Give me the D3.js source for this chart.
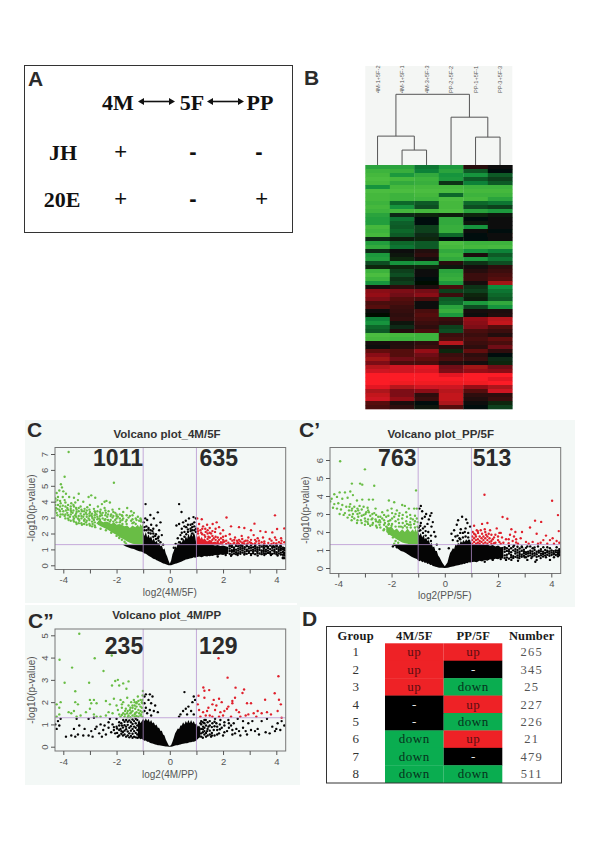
<!DOCTYPE html>
<html><head><meta charset="utf-8">
<style>html,body{margin:0;padding:0;background:#fff}svg{display:block}</style>
<script src="https://cdn.jsdelivr.net/npm/d3@7"></script></head><body>
<script>
// ---------- data ----------
const heatSamples=["4M-1+5F-2","4M-1+5F-1","4M-3+5F-3","PP-2+5F-2","PP-1+5F-1","PP-3+5F-3"];
const heatRows=[
[-.7,-.7,-.4,-.6,.12,.02],[-.85,-.8,-.45,-.7,-.3,-.02],[-.9,-.6,-.75,-.55,-.55,-.3],[-.95,-.9,-.85,-.6,-.3,-.2],
[-.9,-.75,-.8,-.15,-.45,-.3],[-.55,-.9,-.9,-.9,-.85,-.85],[-.95,-.95,-.95,-.95,-.9,-.9],[-.9,-.85,-.9,-.35,-.85,-.85],
[-.9,-.85,-.85,-.95,-.9,-.7],[-.85,-.35,-.3,-.9,-.35,-.4],[-.9,-.55,-.25,-.9,-.25,-.2],[-.85,-.9,-.9,-.95,-.7,-.6],
[-.7,-.12,-.1,-.08,-.1,-.05],[-.65,-.4,-.02,-.75,-.02,.02],[-.65,-.32,-.02,-.75,-.05,.02],[-.9,-.3,-.2,-.8,-.55,.02],
[-.85,-.35,-.2,-.8,.02,-.02],[-.9,-.3,-.12,-.35,-.02,.04],[-.12,-.08,-.1,-.02,-.02,.02],[-.65,-.35,-.3,-.95,-.85,-.85],
[-.75,-.4,-.3,-.9,-.9,-.92],[-.12,.02,.1,-.75,-.55,-.45],[-.6,-.05,.15,-.85,.08,-.3],[-.65,-.1,.05,-.75,-.6,-.4],
[-.25,-.55,-.6,.12,-.15,-.25],[-.1,-.1,-.1,-.05,.05,.15],[-.85,-.2,.02,-.7,.12,.2],[-.95,-.25,.02,-.75,.2,.25],
[-.85,-.15,-.02,-.8,.2,.3],[-.55,-.2,0,-.6,.05,.6],[.05,.15,.08,.25,-.15,-.5],[.5,.45,.42,-.2,-.2,-.4],
[.55,.4,.5,.2,-.1,-.35],[.45,.3,.25,-.3,-.08,-.3],[.25,.25,.02,-.35,-.6,-.75],[.3,.2,.02,-.7,-.25,-.55],
[.02,.18,.25,-.8,.05,.08],[0,.15,.3,-.6,.02,.1],[-.45,.18,.25,.2,.55,.7],[-.55,-.05,.2,.15,.5,.75],
[-.35,-.12,.15,-.2,.45,.3],[-.3,.1,.25,-.25,.25,.2],[-.95,-.9,-.85,.2,.2,.1],[-.9,-.85,-.85,.25,.25,.35],
[.05,.1,.15,.7,.2,.25],[.02,.12,.2,.1,.15,.4],[.35,.3,.55,-.1,.35,.15],[.5,.3,.4,.2,.15,-.02],
[.6,.4,.35,.25,.2,-.12],[.45,.25,.25,.1,.05,-.1],[.7,.8,.9,.4,.6,.4],[.8,.8,.85,.45,.55,.5],
[1,1,1,.9,1,1],[1,1,1,1,1,.9],[1,.95,.95,.95,.95,1],[.9,.7,.8,.8,.55,.65],
[.65,.45,.5,.7,.3,.8],[.75,.45,.15,.75,.15,.15],[.8,.55,.2,.75,.1,.2],[.3,.08,-.02,.65,.02,-.1],[.25,.15,-.05,.3,-.02,-.2]
];
const dendroTree={h:71,ch:[{h:29,ch:[{n:0,h:0},{h:15,ch:[{n:1,h:0},{n:2,h:0}]}]},{h:48,ch:[{n:3,h:0},{h:28,ch:[{n:4,h:0},{n:5,h:0}]}]}]};

const tableHead=["Group","4M/5F","PP/5F","Number"];
const tableGroup=[1,2,3,4,5,6,7,8];
const table4M=["up","up","up","-","-","down","down","down"];
const tablePP=["up","-","down","up","down","up","-","down"];
const tableNum=[265,345,25,227,226,21,479,511];

// dense cores: [x, lower, upper]; scattered marks: [x, y]; extra columns of marks: [x, [y, y, ...]]
const cDenseBlack=[[-1.75,1.27,1.3],[-1.65,1.18,1.3],[-1.55,1.12,1.3],[-1.45,1.05,1.3],[-1.35,1.02,1.3],[-1.25,.95,1.3],[-1.15,.88,1.3],[-1.05,.85,1.3],[-1.0,.8,2.1],[-.95,.75,1.85],[-.9,.72,2.1],[-.85,.66,1.75],[-.8,.6,1.95],[-.75,.56,1.7],[-.7,.5,1.85],[-.65,.45,1.55],[-.6,.4,1.7],[-.55,.38,1.45],[-.5,.32,1.55],[-.45,.28,1.35],[-.4,.24,1.4],[-.35,.2,1.2],[-.3,.16,1.25],[-.25,.12,1.0],[-.2,.09,1.05],[-.15,.06,.75],[-.1,.03,.55],[-.05,.01,.3],[0,0,.1],[.05,.01,.3],[.1,.03,.7],[.15,.06,.9],[.2,.09,1.2],[.25,.12,1.1],[.3,.15,1.4],[.35,.18,1.3],[.4,.21,1.55],[.45,.24,1.4],[.5,.28,1.7],[.55,.32,1.55],[.6,.36,1.85],[.65,.38,1.65],[.7,.4,2.0],[.75,.43,1.75],[.8,.45,2.05],[.85,.46,1.8],[.9,.5,2.1],[.95,.48,1.85],[1,.5,1.3],[1.1,.55,1.3],[1.2,.5,1.3],[1.3,.58,1.3],[1.4,.55,1.3],[1.5,.62,1.28],[1.6,.58,1.3],[1.7,.65,1.25],[1.8,.62,1.28],[1.9,.68,1.22],[2,.64,1.25],[2.1,.7,1.2],[2.2,.72,1.15]];
const cDenseGreen=[[-1,1.3,2.7],[-1.05,1.3,2.45],[-1.1,1.3,2.6],[-1.15,1.3,2.4],[-1.2,1.3,2.55],[-1.3,1.32,2.4],[-1.4,1.35,2.5],[-1.5,1.42,2.35],[-1.6,1.5,2.5],[-1.7,1.6,2.45],[-1.8,1.68,2.55],[-1.9,1.78,2.6],[-2,1.9,2.55],[-2.1,2.0,2.7],[-2.2,2.1,2.6],[-2.3,2.2,2.7],[-2.4,2.3,2.75],[-2.5,2.38,2.7],[-2.6,2.45,2.8],[-2.7,2.55,2.8]];
const cDenseRed=[[1,1.3,2.0],[1.05,1.3,1.75],[1.1,1.3,1.9],[1.15,1.3,1.65],[1.2,1.3,1.8],[1.25,1.3,1.6],[1.3,1.3,1.7],[1.4,1.3,1.5],[1.5,1.3,1.6],[1.6,1.3,1.45],[1.7,1.3,1.5],[1.8,1.3,1.4],[2,1.3,1.38]];
const cGreen=[[-3.8,7.13],[-3.95,5.57],[-4.09,5.1],[-2.1,5.19],[-4.05,4.9],[-4.0,4.65],[-4.15,4.7],[-4.25,4.55],[-3.9,4.5],[-3.78,4.3],[-4.2,4.3],[-3.6,4.25],[-3.45,4.1],[-3.42,4.5],[-3.05,4.3],[-2.95,4.4],[-2.8,4.25],[-2.45,4.0],[-2.38,4.05],[-2.25,3.95],[-2.55,3.85],[-3.25,4.0],[-3.55,3.95],[-3.7,3.9],[-3.95,4.1],[-4.1,3.9],[-4.2,3.8],[-4.28,3.6],[-4.05,3.55],[-3.85,3.6],[-3.72,3.55],[-3.6,3.7],[-3.5,3.5],[-3.35,3.7],[-3.2,3.55],[-3.1,3.65],[-3.0,3.8],[-2.85,3.55],[-2.7,3.7],[-2.6,3.5],[-2.45,3.6],[-2.3,3.4],[-2.15,3.5],[-2.05,3.3],[-1.9,3.55],[-1.75,3.35],[-1.6,3.6],[-1.45,3.4],[-1.35,3.3],[-1.2,3.05],[-1.1,2.95],[-4.25,3.3],[-4.1,3.2],[-3.95,3.1],[-3.85,3.3],[-3.75,3.05],[-3.65,3.3],[-3.55,3.15],[-3.45,2.95],[-3.35,3.25],[-3.25,3.05],[-3.15,3.3],[-3.05,2.95],[-2.95,3.15],[-2.85,2.85],[-2.75,3.2],[-2.65,2.95],[-2.55,3.15],[-2.45,2.85],[-2.35,3.05],[-2.25,2.75],[-2.15,3.0],[-2.05,2.85],[-1.95,3.05],[-1.85,2.8],[-1.75,2.95],[-1.65,2.75],[-1.55,3.0],[-1.45,2.8],[-1.35,2.7],[-1.25,2.85],[-3.8,2.85],[-3.6,2.75],[-3.5,2.6],[-3.4,2.8],[-3.3,2.55],[-3.15,2.7],[-3.0,2.5],[-2.9,2.6],[-2.8,2.4],[-2.7,2.65],[-2.6,2.3],[-2.5,2.5],[-2.4,2.2],[-2.3,2.45],[-2.2,2.05],[-2.1,2.3],[-2.0,1.85],[-1.9,1.72],[-1.8,1.6],[-1.7,1.48],[-1.65,1.38],[-4.0,3.4],[-3.9,3.45],[-3.7,3.35],[-3.5,3.35],[-3.3,3.4],[-3.0,3.35],[-2.8,3.3],[-2.6,3.25],[-2.4,3.3],[-2.2,3.2],[-2.0,3.1],[-1.8,3.15],[-1.5,3.1],[-1.15,2.8],[-3.6,2.95],[-3.2,2.9],[-2.9,2.95],[-2.6,2.7],[-4.15,3.5],[-4.3,4.0]];
const cGreenCols=[[-4.3,[3.45,3.8,4.2]],[-4.22,[3.15,3.55,4.1]],[-4.12,[3.05,3.4,3.7,4.05]],[-4.02,[3.2,3.75,4.3]],[-3.92,[2.95,3.2,3.7,3.95]],[-3.82,[2.95,3.15,3.5,3.8]],[-3.72,[2.8,3.2,3.45,3.7]],[-3.62,[2.85,3.05,3.45,3.8]],[-3.52,[2.7,3.05,3.25,3.6]],[-3.42,[2.65,2.9,3.1,3.4,3.6]],[-3.32,[2.65,2.95,3.1,3.5]],[-3.22,[2.6,2.8,3.2,3.4]],[-3.12,[2.55,2.8,3.05,3.2,3.45]],[-3.02,[2.6,2.85,3.1,3.25,3.5]],[-2.92,[2.45,2.75,3.05,3.25]],[-2.82,[2.5,2.7,3.0,3.15,3.4]],[-2.72,[2.9,3.05,3.4]],[-2.62,[2.85,3.1,3.35]],[-2.52,[2.95,3.3]],[-2.42,[2.9,3.15,3.45]],[-2.32,[2.85,3.2]],[-2.22,[2.85,3.1]],[-2.12,[2.75,3.1,3.35]],[-2.0,[2.7,2.95,3.2]],[-1.88,[2.7,2.95,3.2]],[-1.78,[2.6,2.85,3.1]],[-1.62,[2.6,2.85,3.15]],[-1.4,[2.65,2.9,3.15]],[-1.28,[2.6,2.95]],[-1.08,[2.75,2.85]]];
const cRed=[[3.95,3.14],[2.13,3.01],[3.18,2.62],[1.03,2.95],[1.2,2.9],[1.61,2.6],[1.76,2.7],[4.3,2.32],[3.85,2.07],[4.03,2.28],[1.1,2.6],[1.25,2.45],[1.4,2.55],[1.5,2.35],[1.85,2.4],[2.0,2.2],[2.3,2.45],[2.6,2.4],[2.8,2.35],[3.05,2.2],[3.4,2.15],[3.6,2.1],[1.15,2.2],[1.35,2.1],[1.55,2.0],[1.7,2.1],[1.9,2.0],[2.1,1.85],[2.25,1.95],[2.45,1.75],[2.7,1.85],[2.95,1.75],[3.15,1.9],[3.3,1.7],[3.5,1.75],[3.75,1.65],[3.95,1.75],[4.2,1.55],[4.3,1.45],[4.1,1.45],[3.9,1.4],[3.7,1.4],[3.45,1.45],[3.25,1.5],[3.0,1.45],[2.85,1.55],[2.65,1.5],[2.55,1.45],[2.35,1.55],[2.2,1.42],[2.05,1.5],[1.85,1.6],[1.65,1.7],[1.45,1.8],[1.3,1.9],[1.8,1.4],[1.55,1.5],[2.4,1.38],[2.75,1.38],[3.1,1.35],[1.05,2.3],[1.18,2.05]];
const cRedCols=[[1.06,[2.0,2.15]],[1.22,[1.95,2.3]],[1.33,[1.8,2.3]],[1.42,[1.65,2.0,2.2]],[1.5,[1.75,2.05]],[1.6,[1.6,1.85,2.15]],[1.72,[1.6,1.8,2.3]],[1.8,[1.5,1.75]],[1.92,[1.45,1.7]],[2.0,[1.45,1.6,1.8]],[2.12,[1.35,1.55]],[2.28,[1.35,1.65]],[2.42,[1.42,1.6]],[2.52,[1.35,1.55]],[2.6,[1.35,1.6]],[2.72,[1.42,1.65]],[2.8,[1.35,1.5]],[2.92,[1.38,1.55]],[3.05,[1.4,1.6]],[3.2,[1.38,1.6]],[3.35,[1.38,1.55]],[3.55,[1.38,1.5]],[3.82,[1.35,1.55]],[4.0,[1.38,1.6]],[4.18,[1.38,1.7]]];
const cBlack=[[-.91,3.85],[.35,3.85],[-.45,3.33],[.44,3.35],[-.73,3.16],[.89,3.03],[.98,2.95],[-.6,2.95],[-.35,2.7],[-.85,2.85],[-.92,2.95],[.6,2.8],[.72,2.95],[.5,2.7],[.35,2.6],[.78,2.55],[.25,2.5],[.55,2.45],[.85,2.6],[-.98,2.7],[-.7,2.55],[-.5,2.5],[-.4,2.2],[-.3,1.9],[-.25,1.3],[.15,1.1],[.22,1.35],[.3,1.7],[.4,1.9],[.35,1.45],[-.55,1.85],[-.65,2.15],[-.45,1.7],[-.35,1.45],[1.5,.65],[1.8,.55],[2.1,.65],[2.3,.6],[2.55,.65],[2.8,.68],[3.05,.65],[3.3,.62],[3.55,.65],[3.8,.65],[4.05,.62],[4.25,.45],[4.28,.7],[3.65,1.2],[3.9,1.2],[4.15,1.22],[3.2,1.22],[2.7,1.25]];
const cBlackCols=[[-.96,[2.2,2.4]],[-.88,[2.2,2.45]],[-.8,[2.05,2.25,2.35]],[-.72,[2.0,2.2]],[-.62,[1.8,2.0,2.3]],[-.52,[1.65,1.95]],[-.42,[1.55,1.8]],[.45,[1.65,2.05,2.3]],[.55,[1.8,2.1]],[.62,[1.95,2.4]],[.68,[2.1,2.25,2.55]],[.78,[2.15,2.3]],[.84,[2.0,2.2,2.4]],[.92,[2.2,2.45,2.7]],[.98,[2.1,2.3]],[2.25,[.72,.9,1.05,1.2,1.28]],[2.33,[.68,.85,.95,1.15,1.25]],[2.41,[.74,.9,1.02,1.12]],[2.49,[.7,.82,.98,1.22,1.28]],[2.57,[.76,.92,1.05,1.2]],[2.65,[.72,.84,1.0,1.12,1.26]],[2.73,[.8,.94,1.08,1.22]],[2.81,[.74,.86,1.02,1.14]],[2.89,[.72,.9,.98,1.2,1.28]],[2.97,[.78,.88,1.05,1.16]],[3.05,[.72,.94,1.1,1.25]],[3.13,[.76,.86,.98,1.14]],[3.21,[.7,.92,1.06,1.18,1.28]],[3.29,[.78,.88,1.0,1.12]],[3.37,[.74,.96,1.1,1.24]],[3.45,[.7,.84,.94,1.18]],[3.53,[.76,.9,1.04,1.14,1.26]],[3.61,[.72,.86,.98,1.2]],[3.69,[.78,.92,1.08,1.16]],[3.77,[.74,.84,1.02,1.24]],[3.85,[.72,.94,1.1,1.18]],[3.93,[.76,.88,.98,1.14]],[4.01,[.7,.82,1.04,1.2,1.26]],[4.09,[.74,.9,1.0,1.12]],[4.17,[.68,.8,.96,1.08,1.2]],[4.25,[.5,.66,.84,1.0,1.1]],[4.31,[.45,.62,.78,.95,1.08]]];

const pDenseBlack=[[-1.95,1.27,1.3],[-1.85,1.2,1.3],[-1.75,1.05,1.3],[-1.65,.95,1.3],[-1.55,.9,1.3],[-1.45,.82,1.3],[-1.35,.72,1.3],[-1.25,.62,1.3],[-1.15,.55,1.3],[-1.05,.5,1.3],[-1,.42,2.0],[-.95,.38,1.8],[-.9,.42,1.95],[-.85,.32,1.7],[-.8,.36,1.85],[-.75,.28,1.6],[-.7,.3,1.7],[-.65,.22,1.5],[-.6,.25,1.55],[-.55,.16,1.3],[-.5,.18,1.4],[-.45,.11,1.15],[-.4,.1,1.2],[-.35,.07,.95],[-.3,.05,.95],[-.25,.03,.7],[-.2,.02,.6],[-.1,.01,.3],[0,0,.1],[.1,.01,.3],[.15,.03,.6],[.2,.05,.85],[.25,.07,.95],[.3,.08,1.1],[.35,.1,1.05],[.4,.12,1.3],[.45,.14,1.25],[.5,.15,1.4],[.55,.17,1.3],[.6,.2,1.5],[.65,.19,1.4],[.7,.24,1.55],[.75,.22,1.45],[.8,.28,1.6],[.85,.26,1.5],[.9,.32,1.6],[.95,.3,1.55],[1,.32,1.3],[1.1,.35,1.3],[1.2,.32,1.3],[1.3,.4,1.3],[1.4,.36,1.3],[1.5,.44,1.28],[1.6,.4,1.3],[1.7,.48,1.24],[1.8,.44,1.28],[1.9,.52,1.2],[2,.48,1.25],[2.1,.55,1.15],[2.2,.52,1.18]];
const pDenseGreen=[[-1,1.3,2.25],[-1.05,1.3,2.0],[-1.1,1.3,2.2],[-1.15,1.3,2.0],[-1.2,1.3,2.15],[-1.3,1.3,2.0],[-1.4,1.35,2.2],[-1.5,1.38,2.0],[-1.6,1.42,2.15],[-1.7,1.5,2.0],[-1.8,1.58,2.2],[-1.9,1.68,2.1],[-2,1.78,2.3],[-2.1,1.88,2.25],[-2.2,2.0,2.35]];
const pGreen=[[-3.93,5.93],[-3.0,5.48],[-3.49,4.69],[-3.18,4.69],[-3.1,4.63],[-2.65,4.57],[-1.08,4.31],[-4.15,4.1],[-3.95,4.2],[-3.75,4.2],[-3.55,4.25],[-3.45,4.05],[-4.25,3.85],[-4.05,3.95],[-3.85,3.85],[-3.65,3.9],[-3.3,3.75],[-3.1,3.8],[-2.85,3.8],[-2.7,3.8],[-2.1,3.75],[-1.9,3.65],[-1.6,3.5],[-1.5,3.45],[-1.35,3.3],[-1.15,3.3],[-1.05,3.3],[-4.3,3.7],[-4.15,3.55],[-4.0,3.6],[-3.85,3.5],[-3.7,3.4],[-3.55,3.55],[-3.4,3.4],[-3.2,3.45],[-3.05,3.4],[-2.9,3.35],[-2.6,3.3],[-2.35,3.1],[-2.15,3.2],[-2.0,3.3],[-1.8,3.2],[-1.7,3.05],[-1.45,3.1],[-1.3,2.95],[-1.2,2.7],[-1.05,2.75],[-4.05,3.3],[-3.9,3.25],[-3.75,3.05],[-3.6,3.2],[-3.45,3.0],[-3.35,3.15],[-3.2,3.05],[-3.05,2.95],[-2.95,3.1],[-2.8,2.9],[-2.65,3.05],[-2.5,2.85],[-2.35,2.75],[-2.2,2.85],[-2.05,2.65],[-1.9,2.85],[-1.75,2.7],[-1.6,2.75],[-1.45,2.6],[-1.3,2.55],[-1.15,2.45],[-3.65,2.8],[-3.5,2.65],[-3.4,2.75],[-3.3,2.5],[-3.15,2.65],[-3.0,2.4],[-2.9,2.55],[-2.8,2.35],[-2.7,2.5],[-2.55,2.25],[-2.45,2.4],[-2.3,2.1],[-2.2,2.3],[-2.1,1.9],[-2.0,2.35],[-1.95,1.7],[-1.85,1.5],[-1.75,1.4],[-1.65,2.3],[-1.5,2.35],[-1.35,2.4],[-1.9,1.35],[-3.25,2.85],[-3.0,2.75],[-2.75,2.7],[-2.5,2.55],[-2.25,2.5],[-2.1,2.45],[-3.5,3.2],[-3.25,3.2],[-2.85,3.1],[-2.6,2.7],[-2.45,2.65],[-4.2,3.35],[-3.95,3.0],[-3.8,2.95]];
const pGreenCols=[[-3.58,[2.95,3.4]],[-3.48,[2.85,3.3]],[-3.28,[2.65,3.0,3.3]],[-3.12,[2.5,2.9,3.25]],[-2.98,[2.6,3.0]],[-2.88,[2.45,2.7,3.2]],[-2.72,[2.4,2.75,3.0]],[-2.58,[2.35,2.6,2.95]],[-2.42,[2.25,2.55,2.85]],[-2.28,[2.15,2.4,2.65,2.95]],[-2.12,[2.4,2.6,2.9]],[-1.98,[2.45,2.75,3.05]],[-1.85,[2.3,2.6,3.0]],[-1.72,[2.3,2.5,2.9]],[-1.58,[2.25,2.5,2.95]],[-1.42,[2.25,2.45,2.85]],[-1.28,[2.25,2.4,2.75]],[-1.12,[2.25,2.6,2.9]],[-1.02,[2.3,2.55]]];
const pRed=[[1.49,4.07],[4.03,3.74],[4.25,2.94],[2.17,2.83],[2.35,2.74],[3.39,2.63],[3.62,2.56],[1.4,2.45],[1.6,2.5],[1.1,2.35],[1.2,2.1],[1.35,2.1],[1.5,2.15],[1.7,2.1],[1.95,2.2],[2.5,2.15],[2.65,2.0],[2.9,2.0],[3.2,2.25],[3.45,1.9],[3.8,1.8],[4.05,1.65],[4.28,2.05],[4.2,1.5],[3.95,1.55],[3.7,1.55],[3.6,1.4],[3.3,1.45],[3.05,1.45],[2.85,1.65],[2.6,1.75],[2.45,1.85],[2.3,1.6],[2.15,1.7],[2.05,1.45],[1.9,1.85],[1.8,1.6],[1.65,1.9],[1.55,1.85],[1.4,1.9],[1.25,1.95],[1.05,2.0],[1.15,1.85],[1.9,1.4],[2.2,1.4],[2.55,1.5],[2.75,1.35],[3.15,1.35],[3.5,1.35],[3.85,1.35],[4.3,1.4],[4.1,1.35],[2.05,1.95]];
const pRedCols=[[1.03,[1.35,1.55,1.75]],[1.1,[1.45,1.65,1.9]],[1.17,[1.35,1.55,1.75]],[1.24,[1.4,1.6,2.05]],[1.31,[1.35,1.5,1.75]],[1.38,[1.45,1.65]],[1.45,[1.35,1.55,1.75]],[1.52,[1.42,1.65,2.0]],[1.6,[1.35,1.55,1.75]],[1.68,[1.45,1.65]],[1.75,[1.35,1.5,1.85]],[1.85,[1.38,1.7]],[2.0,[1.55,1.75]],[2.1,[1.35,1.95]],[2.4,[1.38,1.6]],[2.68,[1.42,1.6]]];
const pBlack=[[-.9,3.45],[-.95,3.3],[-.85,3.15],[-.7,3.0],[-.5,3.05],[-.55,2.9],[-.75,2.85],[-.6,2.7],[-.85,2.75],[-.45,2.55],[-.65,2.45],[-.9,2.5],[-.5,2.3],[-.75,2.3],[-.4,2.0],[-.35,1.75],[.65,2.85],[.8,2.7],[.5,2.65],[.45,2.4],[.85,2.5],[.95,2.3],[.35,2.1],[.6,2.15],[.75,2.0],[.25,1.9],[.3,1.55],[.4,1.75],[.55,1.65],[-.3,1.3],[-.2,1.05],[.15,1.1],[-1.3,1.1],[-1.6,1.05],[-1.8,1.15],[-1.95,1.2],[1.5,.35],[1.8,.45],[2.1,.5],[2.3,.45],[2.5,.45],[2.8,.55],[3.0,.6],[3.1,.45],[3.25,.55],[3.45,.45],[3.6,.55],[3.8,.6],[3.95,.45],[4.1,.6],[4.25,.65],[2.6,1.25],[2.9,1.15],[3.1,1.2],[3.3,1.1],[3.5,1.2],[3.7,1.15],[3.95,1.1],[4.2,1.15],[4.3,1.05],[3.4,.35],[2.75,.4]];
const pBlackCols=[[-.98,[2.05,2.25]],[-.92,[2.1,2.35]],[-.82,[1.95,2.2]],[-.72,[1.8,2.05]],[-.62,[1.65,2.0]],[-.52,[1.5,1.8]],[.48,[1.5,1.8]],[.58,[1.6,1.95]],[.68,[1.7,1.95]],[.78,[1.75,2.2]],[.88,[1.7,1.95]],[2.25,[.55,.7,.9,1.05,1.15]],[2.33,[.58,.74,.95,1.1]],[2.41,[.52,.8,.92,1.02,1.22]],[2.49,[.6,.72,.88,1.1]],[2.57,[.56,.66,.98,1.18]],[2.65,[.62,.8,.92,1.05]],[2.73,[.58,.7,.86,1.0,1.18]],[2.81,[.66,.78,.9,1.08]],[2.89,[.62,.74,.96,1.2]],[2.97,[.68,.82,.92,1.02]],[3.05,[.6,.76,.88,1.12]],[3.13,[.66,.8,.9]],[3.21,[.7,.84,.96,1.2]],[3.29,[.64,.78,.92]],[3.37,[.7,.82,1.0,1.14]],[3.45,[.62,.76,.9]],[3.53,[.66,.86,.96]],[3.61,[.7,.8,.94,1.05]],[3.69,[.64,.78,.9]],[3.77,[.7,.84,1.0]],[3.85,[.74,.88,.96,1.15]],[3.93,[.68,.8,.92]],[4.01,[.72,.86,.98]],[4.09,[.76,.82,.94]],[4.17,[.72,.88,.98]],[4.25,[.76,.84,.96]],[4.31,[.72,.85,.95]]];

const qDenseBlack=[[-1.2,.36,1.1],[-1.15,.38,1.2],[-1.1,.33,1.05],[-1.05,.36,1.15],[-1,.3,1.25],[-.95,.27,1.15],[-.9,.28,1.28],[-.85,.22,1.15],[-.8,.22,1.25],[-.75,.18,1.1],[-.7,.16,1.2],[-.65,.14,1.05],[-.6,.12,1.1],[-.55,.1,.95],[-.5,.09,1.0],[-.45,.07,.85],[-.4,.06,.85],[-.35,.05,.7],[-.3,.04,.72],[-.25,.03,.55],[-.2,.02,.5],[-.15,.01,.32],[-.1,.01,.2],[-.04,0,.05],[0,0,.03],[.05,.0,.08],[.1,.01,.22],[.15,.03,.4],[.2,.05,.6],[.25,.06,.7],[.3,.07,.82],[.35,.09,.8],[.4,.1,.95],[.45,.12,.95],[.5,.13,1.1],[.55,.14,1.0],[.6,.15,1.15],[.65,.16,1.05],[.7,.18,1.2],[.75,.2,1.05],[.8,.2,1.2],[.85,.22,1.05],[.9,.22,1.15],[.95,.25,1.0],[1,.28,1.05],[1.05,.35,.9],[1.1,.4,.95],[1.15,.42,.85]];
const qGreen=[[-3.4,5.07],[-4.14,3.9],[-2.82,3.97],[-2.18,4.09],[-3.67,3.55],[-2.49,3.4],[-3.95,2.87],[-3.03,2.87],[-1.95,3.0],[-2.05,2.95],[-2.17,2.75],[-1.55,2.93],[-1.75,2.84],[-1.9,2.75],[-1.63,2.6],[-1.01,2.5],[-3.55,2.49],[-1.02,2.3],[-1.2,2.25],[-1.35,2.1],[-1.1,2.1],[-1.05,2.0],[-1.25,2.0],[-1.45,2.0],[-1.6,2.2],[-1.85,2.1],[-2.1,2.15],[-2.4,2.05],[-2.85,2.1],[-3.0,2.1],[-3.55,2.0],[-3.45,1.9],[-4.1,2.0],[-4.25,1.9],[-4.15,1.75],[-2.95,1.95],[-2.75,1.95],[-2.25,1.9],[-2.0,1.85],[-1.75,2.0],[-1.55,1.85],[-1.4,1.85],[-1.8,1.75],[-1.65,1.7],[-1.5,1.65],[-1.3,1.7],[-1.15,1.9],[-1.05,1.75],[-1.95,1.65],[-2.15,1.5],[-2.4,1.4],[-2.3,1.55],[-2.85,1.45],[-3.15,1.55],[-3.0,1.7],[-3.6,1.6],[-3.7,1.5],[-3.8,1.55],[-3.5,1.35],[-3.35,1.4],[-4.25,1.35],[-4.15,1.45],[-2.75,1.35],[-2.6,1.35],[-1.9,1.45],[-1.75,1.5],[-1.6,1.5],[-1.7,1.35],[-1.85,1.35],[-1.3,1.5],[-1.15,1.5],[-1.25,1.8],[-1.45,1.55],[-1.08,1.45],[-1.55,1.4]];
const qGreenCols=[[-1.03,[1.35,1.55,1.95,2.1]],[-1.1,[1.4,1.6,1.8]],[-1.18,[1.35,1.65,2.05]],[-1.25,[1.38,1.55,1.95]],[-1.32,[1.35,1.45,1.85,2.0]],[-1.4,[1.4,1.6,1.75]],[-1.48,[1.32,1.5,1.75]],[-1.58,[1.32,1.6]],[-1.68,[1.45,1.6]],[-1.8,[1.42,1.9]]];
const qRed=[[1.83,3.97],[2.17,3.1],[4.08,3.16],[1.26,2.66],[2.47,2.65],[2.79,2.57],[1.48,2.54],[1.3,2.51],[2.73,2.41],[1.08,2.29],[3.94,2.4],[4.1,2.11],[3.58,2.11],[4.17,1.9],[1.3,2.2],[1.65,2.1],[1.85,2.15],[1.95,2.0],[2.35,2.05],[2.45,2.2],[2.35,1.95],[2.9,1.95],[3.05,1.95],[1.6,1.9],[1.75,1.85],[2.2,1.8],[2.15,1.7],[1.45,1.75],[1.1,1.65],[1.25,1.55],[1.4,1.6],[1.5,1.4],[1.6,1.35],[1.9,1.55],[2.0,1.4],[2.5,1.65],[2.6,1.55],[2.85,1.4],[2.95,1.45],[3.15,1.5],[3.3,1.6],[3.45,1.5],[3.65,1.55],[3.8,1.45],[4.05,1.6],[4.2,1.3],[3.25,1.35],[2.65,1.35],[2.3,1.35],[1.85,1.35],[1.15,1.35],[1.35,1.4],[1.7,1.65],[2.05,1.6],[1.05,1.9]];
const qBlack=[[-.9,2.35],[-.95,2.25],[-.75,2.35],[-.65,2.25],[-.8,2.1],[-.95,1.95],[-.7,1.95],[-.55,1.85],[-.9,1.75],[-.75,1.65],[-.6,1.6],[-.45,1.55],[-.85,1.5],[-.95,1.6],[-.7,1.4],[.55,2.45],[.9,2.25],[.95,2.1],[.85,2.0],[.7,1.8],[.6,1.7],[.5,1.6],[.4,1.45],[.8,1.6],[.9,1.45],[.35,1.35],[.65,1.45],[-4.25,.8],[-4.15,.95],[-4.2,1.15],[-4.1,1.25],[-4.3,1.0],[-3.9,.45],[-3.7,.5],[-3.55,.45],[-3.45,.55],[-3.25,.5],[-3.6,.8],[-3.4,.95],[-3.2,.8],[-3.05,.5],[-2.9,.45],[-2.8,.8],[-2.65,.6],[-2.5,.75],[-2.4,.55],[-2.3,.85],[-2.2,.65],[-2.05,.6],[-1.95,.45],[-1.85,.8],[-1.7,.55],[-3.5,1.25],[-3.05,1.25],[-2.85,1.3],[-2.6,1.0],[-2.45,.95],[-2.3,1.1],[-2.15,1.0],[-2.0,.9],[-1.9,1.1],[-1.75,1.2],[-2.75,.9],[-2.95,.7],[-2.55,.45],[-2.25,1.25],[-2.0,1.25],[-1.8,.95],[1.3,.55],[1.45,.9],[1.55,.45],[1.65,.75],[1.75,1.05],[1.85,.6],[1.95,.85],[2.05,1.1],[2.15,.7],[2.3,.95],[1.35,1.2],[1.5,1.15],[1.7,1.25],[1.9,1.2],[2.2,1.2],[2.4,1.05],[2.5,.8],[2.6,.7],[2.45,.6],[2.65,.5],[2.75,.85],[2.85,.7],[2.95,1.05],[2.9,.55],[3.05,.75],[3.2,.7],[3.3,.8],[3.35,.55],[3.45,1.15],[3.6,.65],[3.75,.6],[3.85,.9],[4.0,.8],[4.15,.75],[4.3,.95],[4.05,1.05],[3.95,.7],[4.2,1.15],[3.1,1.15],[2.75,1.15],[2.55,1.25],[3.65,1.25],[1.6,1.05],[1.4,.7],[1.25,.9],[1.15,1.05],[2.0,.5]];
const qBlackCols=[[-1.22,[.4,.55,.75,.95,1.2]],[-1.28,[.42,.62,.85,1.05,1.25]],[-1.34,[.45,.7,.9,1.15]],[-1.4,[.4,.58,.8,1.02,1.22]],[-1.46,[.48,.72,.92,1.1]],[-1.52,[.42,.6,.85,1.18]],[-1.58,[.5,.68,.98,1.12]],[-1.64,[.45,.78,.9,1.2]],[-1.7,[.72,.96,1.12]],[-1.76,[.5,.66,.86]],[-1.82,[.58,.7,1.05]],[-1.9,[.5,.75,.95]],[-1.98,[.62,.82]],[-2.1,[.75,.88]],[1.18,[.45,.6,.8,1.0,1.15]],[1.24,[.4,.65,.78,1.1]],[1.3,[.7,.85,1.05,1.2]],[1.36,[.45,.62,.95]],[1.42,[.5,.8,1.1]],[1.5,[.55,.72,.95]],[1.58,[.5,.62,.88]],[1.68,[.5,.92,1.12]],[1.78,[.55,.75,.9]],[1.88,[.78,1.0]],[2.05,[.65,.95]],[2.22,[.85,1.05]],[2.35,[.55,.75]]];

const panelTicksX=[-4,-3,-2,-1,0,1,2,3,4];
const panelLabelsX=[-4,-2,0,2,4];
const ticksC=[0,1,2,3,4,5,6,7],ticksP=[0,1,2,3,4,5,6],ticksQ=[0,1,2,3,4,5];
const thresholdsX=[-1,1],thresholdY=1.3;

// ---------- page ----------
const W=600,H=849;
const svg=d3.select("body").append("svg").attr("width",W).attr("height",H).attr("viewBox",`0 0 ${W} ${H}`);
const SANS="'Liberation Sans',Arial,sans-serif",SERIF="'Liberation Serif','Times New Roman',serif";
svg.append("rect").attr("width",W).attr("height",H).attr("fill","#fff");
const defs=svg.append("defs");
defs.append("filter").attr("id","soft").attr("x","-2%").attr("y","-2%").attr("width","104%").attr("height","104%").append("feGaussianBlur").attr("stdDeviation","0.25 0.6");
const letter=(t,x,y)=>svg.append("text").attr("x",x).attr("y",y).attr("font-family",SANS).attr("font-weight",700).attr("font-size",21).attr("fill","#2b2b2b").text(t);
const expand=cols=>cols.flatMap(([x,ys])=>ys.map(y=>[x,y]));

// Panel A
const gA=svg.append("g");
gA.append("rect").attr("x",24.5).attr("y",65.5).attr("width",268).attr("height",167).attr("fill","#fff").attr("stroke","#333").attr("stroke-width",1);
const tA=(t,x,y,o={})=>gA.append("text").attr("x",x).attr("y",y).attr("text-anchor","middle").attr("font-family",o.f||SERIF).attr("font-weight",o.w||700).attr("font-size",o.s||22).attr("fill","#111").text(t);
letter("A",28,86);
[["4M",118],["5F",192],["PP",260]].forEach(d=>tA(d[0],d[1],110));
tA("JH",63,160);tA("20E",62,207);
[[120.7,158.5,"+"],[193,158.5,"-"],[259,158.5,"-"],[120.7,206,"+"],[193,206,"-"],[261.7,206,"+"]].forEach(d=>tA(d[2],d[0],d[1],{f:SANS,w:d[2]==="-"?700:400,s:22}));
[[138,175],[207,244]].forEach(([a,b])=>{
  const y=101.5;
  gA.append("line").attr("x1",a+3).attr("x2",b-3).attr("y1",y).attr("y2",y).attr("stroke","#111").attr("stroke-width",1.6);
  gA.append("path").attr("d",`M${a},${y}l6,-3.5v7zM${b},${y}l-6,-3.5v7z`).attr("fill","#111");
});

// Panel B
letter("B",304,85);
const hx=d3.scaleBand().domain(d3.range(6)).range([365.3,512.3]);
const hy=d3.scaleBand().domain(d3.range(heatRows.length)).range([165,409]);
const heatColor=d3.scaleLinear().domain([-1,-.5,0,.5,1]).range(["#52c23f","#0f8f3c","#060a06","#8a0f16","#fb1c26"]);
svg.append("rect").attr("x",365.3).attr("y",66).attr("width",147).attr("height",99).attr("fill","#f4f6f4");
const gH=svg.append("g").attr("filter","url(#soft)");
heatRows.forEach((r,i)=>r.forEach((v,j)=>gH.append("rect").attr("x",hx(j)).attr("y",hy(i)).attr("width",hx.bandwidth()+.3).attr("height",hy.bandwidth()+.3).attr("fill",heatColor(v))));
const dy=d3.scaleLinear().domain([0,71]).range([165,94.3]);
const root=d3.hierarchy(dendroTree,d=>d.ch);
root.eachAfter(n=>{n.px=n.children?(n.children[0].px+n.children[1].px)/2:hx(n.data.n)+hx.bandwidth()/2;});
root.each(n=>{ if(n.children){
  const [a,b]=n.children;
  svg.append("path").attr("fill","none").attr("stroke","#555").attr("stroke-width",1)
   .attr("d",`M${a.px},${dy(a.data.h)}V${dy(n.data.h)}H${b.px}V${dy(b.data.h)}`);
}});
heatSamples.forEach((s,i)=>{
  const x=hx(i)+hx.bandwidth()/2+2;
  svg.append("text").attr("transform",`translate(${x},93) rotate(-90)`).attr("font-family",SANS).attr("font-size",5.6).attr("fill","#555").text(s);
});

// Volcano panels
function volcano(o){
  const g=svg.append("g");
  g.append("rect").attr("x",o.bg[0]).attr("y",o.bg[1]).attr("width",o.bg[2]-o.bg[0]).attr("height",o.bg[3]-o.bg[1]).attr("fill","#f3f8f6");
  const x=d3.scaleLinear().domain([-4,4]).range(o.xr);
  const y=d3.scaleLinear().domain(o.yd).range(o.yr);
  const [l,t,r,b]=o.box;
  const id="clip"+o.id;
  g.append("clipPath").attr("id",id).append("rect").attr("x",l).attr("y",t).attr("width",r-l).attr("height",b-t);
  const plot=g.append("g").attr("clip-path",`url(#${id})`);
  const area=d3.area().x(d=>x(d[0])).y0(d=>y(d[1])).y1(d=>y(d[2]));
  const dots=(pts,c)=>plot.append("g").selectAll("circle").data(pts).join("circle").attr("cx",d=>x(d[0])).attr("cy",d=>y(d[1])).attr("r",1.2).attr("fill",c);
  plot.append("path").datum(o.db).attr("d",area).attr("fill","#050505");
  dots(o.pb,"#050505");
  if(o.dg) plot.append("path").datum(o.dg).attr("d",area).attr("fill","#69bd45");
  dots(o.pg,"#69bd45");
  if(o.dr) plot.append("path").datum(o.dr).attr("d",area).attr("fill","#e0202c");
  dots(o.pr,"#e0202c");
  const lineCol="#b58fcf";
  thresholdsX.forEach(v=>plot.append("line").attr("x1",x(v)).attr("x2",x(v)).attr("y1",t).attr("y2",b).attr("stroke",lineCol).attr("stroke-width",1).attr("opacity",.75));
  plot.append("line").attr("x1",l).attr("x2",r).attr("y1",y(thresholdY)).attr("y2",y(thresholdY)).attr("stroke",lineCol).attr("stroke-width",1).attr("opacity",.75);
  g.append("rect").attr("x",l).attr("y",t).attr("width",r-l).attr("height",b-t).attr("fill","none").attr("stroke","#777").attr("stroke-width",1);
  // axes
  const ax=g.append("g").attr("transform",`translate(0,${b})`).call(d3.axisBottom(x).tickValues(panelTicksX).tickSize(4).tickPadding(3).tickFormat(d=>panelLabelsX.includes(d)?(d<0?"-"+Math.abs(d):d):""));
  ax.select(".domain").remove();
  const ay=g.append("g").attr("transform",`translate(${l},0)`).call(d3.axisLeft(y).tickValues(o.yt).tickSize(4).tickFormat(d3.format("d")));
  ay.select(".domain").remove();
  ay.selectAll(".tick text").attr("transform","rotate(-90) translate(0,-7)").attr("x",0).attr("y",0).attr("dy",0).attr("text-anchor","middle");
  [ax,ay].forEach(a=>{a.selectAll("text").attr("font-family",SANS).attr("font-size",9.5).attr("fill","#555");a.selectAll("line").attr("stroke","#555");});
  const tx=(s,xx,yy,at)=>g.append("text").attr("x",xx).attr("y",yy).attr("text-anchor","middle").attr("font-family",SANS).call(at).text(s);
  tx(o.title,o.titleAt[0],o.titleAt[1],s=>s.attr("font-weight",700).attr("font-size",11.5).attr("fill","#333"));
  tx(o.xlab,x(0),o.xlabY,s=>s.attr("font-size",10).attr("fill","#555"));
  g.append("text").attr("transform",`translate(${o.ylabAt[0]},${o.ylabAt[1]}) rotate(-90)`).attr("text-anchor","middle").attr("font-family",SANS).attr("font-size",10).attr("fill","#555").text("-log10(p-value)");
  o.counts.forEach(c=>tx(c[0],c[1],c[2],s=>s.attr("font-weight",700).attr("font-size",23).attr("fill","#2a2a2a")));
  letter(o.letter,o.letterAt[0],o.letterAt[1]);
}
volcano({id:"c",bg:[25,420,297,603],xr:[63.3,276.3],yd:[0,7],yr:[565.3,454],yt:ticksC,box:[55,447.5,285.7,569.5],db:cDenseBlack,pb:cBlack.concat(expand(cBlackCols)),dg:cDenseGreen,pg:cGreen.concat(expand(cGreenCols)),dr:cDenseRed,pr:cRed.concat(expand(cRedCols)),title:"Volcano plot_4M/5F",titleAt:[167,438],xlab:"log2(4M/5F)",xlabY:596,ylabAt:[35,508],counts:[["1011",118,465.5],["635",218.8,465.5]],letter:"C",letterAt:[27,437]});
volcano({id:"p",bg:[297,420,575,607],xr:[338.3,551.3],yd:[0,6],yr:[568,460],yt:ticksP,box:[330,447.5,560.7,573.5],db:pDenseBlack,pb:pBlack.concat(expand(pBlackCols)),dg:pDenseGreen,pg:pGreen.concat(expand(pGreenCols)),dr:null,pr:pRed.concat(expand(pRedCols)),title:"Volcano plot_PP/5F",titleAt:[440.7,438],xlab:"log2(PP/5F)",xlabY:599,ylabAt:[309,510],counts:[["763",397.3,465.5],["513",492,465.5]],letter:"C\u2019",letterAt:[299,437]});
volcano({id:"q",bg:[25,605,300,785],xr:[63.3,276.3],yd:[0,5],yr:[746.7,635.3],yt:ticksQ,box:[55,629,285.7,751],db:qDenseBlack,pb:qBlack.concat(expand(qBlackCols)),dg:null,pg:qGreen.concat(expand(qGreenCols)),dr:null,pr:qRed,title:"Volcano plot_4M/PP",titleAt:[166.7,619],xlab:"log2(4M/PP)",xlabY:777.5,ylabAt:[35,690],counts:[["235",124,654],["129",218.3,654]],letter:"C\u201D",letterAt:[28,628]});

// Panel D
letter("D",302,626);
const cols=[326.7,385,443.7,502.3,561.7];
const colMid=[355.7,414.3,473.3,531.7];
const rowY=d3.scaleBand().domain(tableGroup).range([643.3,782.7]);
const cellFill={up:"#ee2226",down:"#0aad50","-":"#000"};
const cellText={up:"#5a0d12",down:"#06301c","-":"#e8e8e8"};
svg.append("rect").attr("x",326.5).attr("y",626.5).attr("width",235).attr("height",156.5).attr("fill","#fff");
tableGroup.forEach((g,i)=>{
  const yy=rowY(g),base=yy+13;
  [[table4M[i],1],[tablePP[i],2]].forEach(([v,c])=>{
    svg.append("rect").attr("x",cols[c]).attr("y",yy).attr("width",cols[c+1]-cols[c]).attr("height",rowY.bandwidth()+.3).attr("fill",cellFill[v]);
    svg.append("text").attr("x",colMid[c]).attr("y",base).attr("text-anchor","middle").attr("font-family",SERIF).attr("font-size",13).attr("letter-spacing",.5).attr("fill",cellText[v]).text(v);
  });
  svg.append("text").attr("x",colMid[0]).attr("y",base).attr("text-anchor","middle").attr("font-family",SERIF).attr("font-size",13).attr("fill","#333").text(g);
  svg.append("text").attr("x",colMid[3]).attr("y",base).attr("text-anchor","middle").attr("font-family",SERIF).attr("font-size",12.5).attr("letter-spacing",1.2).attr("fill","#555").text(tableNum[i]);
});
tableHead.forEach((h,i)=>svg.append("text").attr("x",colMid[i]).attr("y",640).attr("text-anchor","middle").attr("font-family",SERIF).attr("font-weight",700).attr("font-size",12.5).attr("letter-spacing",.2).attr("fill","#1a1a1a").text(h));
svg.append("rect").attr("x",326.5).attr("y",626.5).attr("width",235).attr("height",156.5).attr("fill","none").attr("stroke","#333").attr("stroke-width",1);
</script></body></html>
